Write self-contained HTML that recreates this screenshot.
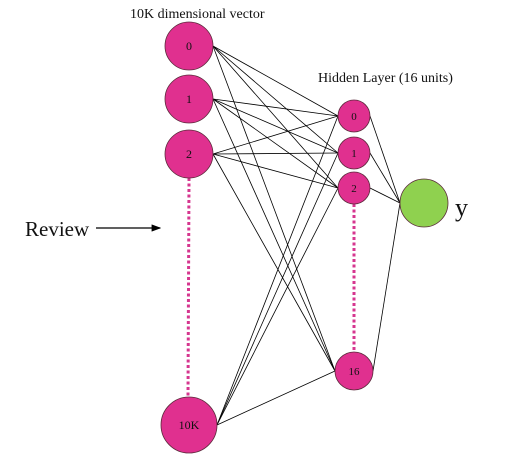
<!DOCTYPE html>
<html><head><meta charset="utf-8"><style>
html,body{margin:0;padding:0;background:#fff;width:516px;height:463px;overflow:hidden}
text{font-family:"Liberation Serif",serif;fill:#111}
</style></head><body>
<svg width="516" height="463" viewBox="0 0 516 463">
<defs><marker id="ah" markerWidth="8" markerHeight="6" refX="7" refY="3" orient="auto"><path d="M0,0 L8,3 L0,6 z" fill="#000"/></marker></defs>
<g id="edges"></g>
<line x1="189" y1="178" x2="188" y2="397" stroke="#d6368f" stroke-width="3" stroke-dasharray="3,2.5"/>
<line x1="354" y1="204" x2="354" y2="352" stroke="#d6368f" stroke-width="3" stroke-dasharray="3,2.5"/>
<g id="nodes"></g>
<text x="130" y="18" font-size="14">10K dimensional vector</text>
<text x="318" y="82" font-size="14">Hidden Layer (16 units)</text>
<text x="25" y="236" font-size="21">Review</text>
<line x1="96" y1="228" x2="160" y2="228" stroke="#000" stroke-width="1.2" marker-end="url(#ah)"/>
<text x="455" y="216" font-size="26">y</text>
</svg>
<script>
const inputLabels=["0","1","2","10K"];
const inputY=[46,99,154,425];
const inputR=[24,24,24,28];
const hiddenLabels=["0","1","2","16"];
const hiddenY=[116,153,188,371];
const hiddenR=[16,16,16,19];
const NS="http://www.w3.org/2000/svg";
const ex=document.getElementById('edges'), nd=document.getElementById('nodes');
const ix=189, hx=354, ox=424, oy=203, orr=24;
function ln(x1,y1,x2,y2){const l=document.createElementNS(NS,'line');l.setAttribute('x1',x1);l.setAttribute('y1',y1);l.setAttribute('x2',x2);l.setAttribute('y2',y2);l.setAttribute('stroke','#000');l.setAttribute('stroke-width','0.8');


ex.appendChild(l);}
inputY.forEach((y,i)=>hiddenY.forEach((hy,j)=>ln(ix+inputR[i],y,hx-hiddenR[j],hy)));
hiddenY.forEach((hy,j)=>ln(hx+hiddenR[j],hy,ox-orr,oy));
function node(x,y,r,fill,label,fs,name){const c=document.createElementNS(NS,'circle');c.setAttribute('cx',x);c.setAttribute('cy',y);c.setAttribute('r',r);c.setAttribute('fill',fill);c.setAttribute('stroke','#5a2a3a');c.setAttribute('stroke-width','0.8');


nd.appendChild(c);
if(label){const t=document.createElementNS(NS,'text');t.setAttribute('x',x);t.setAttribute('y',y+4);t.setAttribute('text-anchor','middle');t.setAttribute('font-size',fs);t.textContent=label;


nd.appendChild(t);}}
inputY.forEach((y,i)=>node(ix,y,inputR[i],'#e0308f',inputLabels[i],12,'input-node-'+inputLabels[i].toLowerCase()));
hiddenY.forEach((y,j)=>node(hx,y,hiddenR[j],'#e0308f',hiddenLabels[j],11,'hidden-node-'+hiddenLabels[j]));
node(ox,oy,orr,'#8fd14f','',12,'output-node');
</script>
</body></html>
